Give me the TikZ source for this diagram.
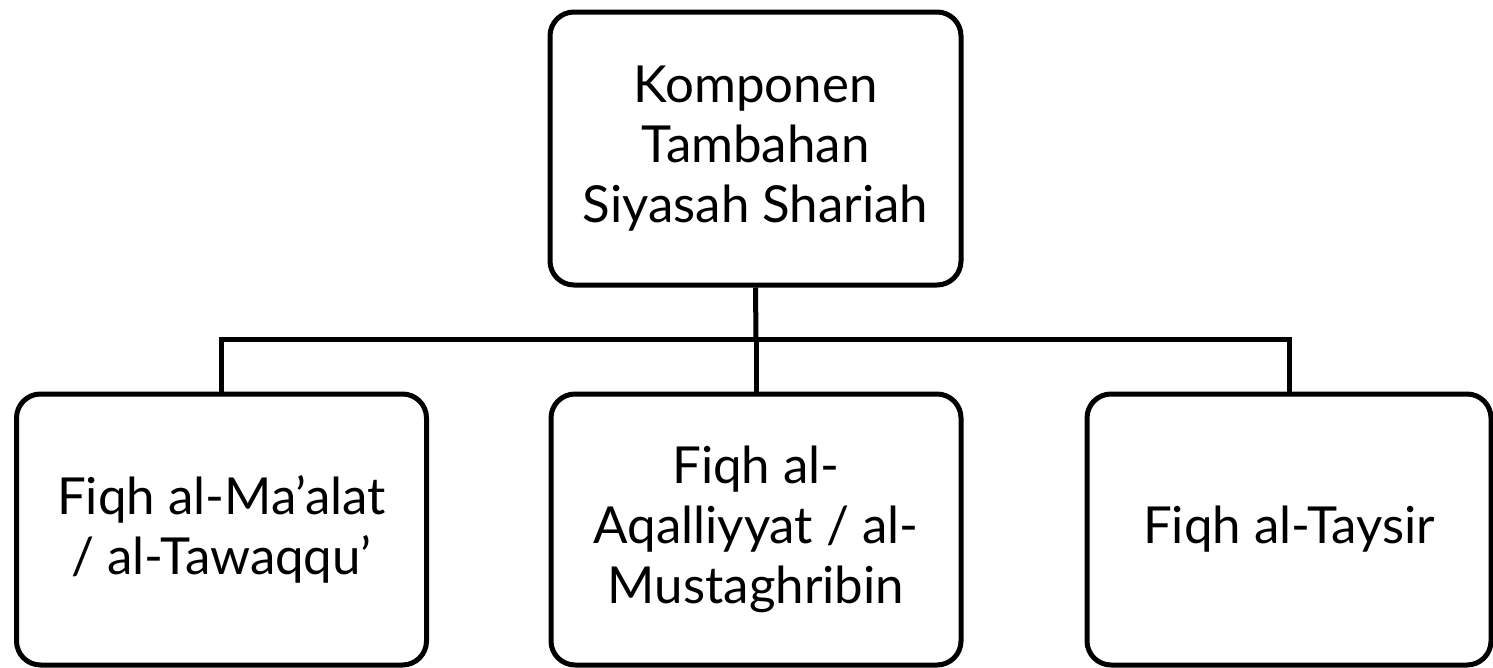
\documentclass[tikz,border=0pt]{standalone}
\usepackage{fontspec}
\setmainfont{Lato}
\begin{document}
\begin{tikzpicture}[x=1pt,y=-1pt,
  box/.style={draw=black, line width=5pt, rounded corners=24pt, fill=white,
    align=center, inner sep=0pt, font=\fontsize{51}{60}\selectfont},
  link/.style={draw=black, line width=5pt}]
\useasboundingbox (0,0) rectangle (1493,667);
\node[box, minimum width=411pt, minimum height=273pt] (top) at (755.5,148.5)
  {Komponen\\Tambahan\\Siyasah Shariah};
\node[box, minimum width=410pt, minimum height=271pt] (left) at (221.5,529.5)
  {Fiqh al-Ma’alat\\/ al-Tawaqqu’};
\node[box, minimum width=410pt, minimum height=271pt] (mid) at (756,529.5)
  {Fiqh al-\\Aqalliyyat / al-\\Mustaghribin};
\node[box, minimum width=404pt, minimum height=271pt] (right) at (1289,529.5)
  {Fiqh al-Taysir};
\coordinate (bus) at (756,339.5);
\draw[link] (top.south) -- (bus);
\draw[link] (left.north) |- (bus) -| (right.north);
\draw[link] (bus) -- (mid.north);
\end{tikzpicture}
\end{document}
